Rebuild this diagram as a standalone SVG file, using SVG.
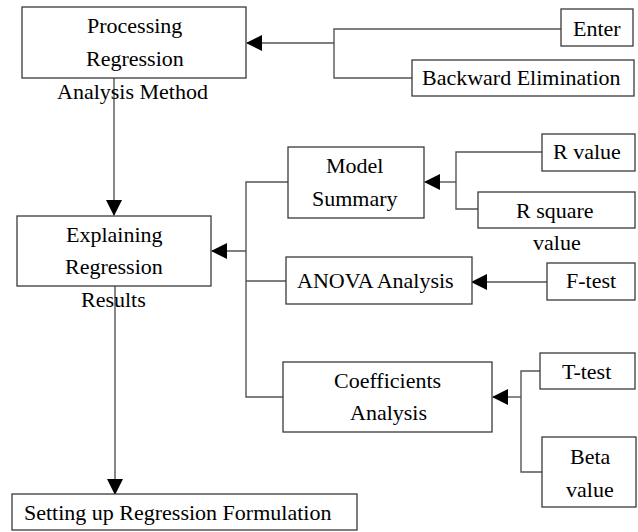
<svg xmlns="http://www.w3.org/2000/svg" width="638" height="532" viewBox="0 0 638 532">
  <defs>
    <marker id="arrow" viewBox="0 0 16 16" refX="15" refY="8" markerWidth="16" markerHeight="16" markerUnits="userSpaceOnUse" orient="auto">
      <path d="M0,0 L16,8 L0,16 Z" fill="#000000"/>
    </marker>
  </defs>
  <rect width="638" height="532" fill="#ffffff"/>

  <g id="connectors" fill="none" stroke="#555555" stroke-width="1.4">
    <!-- method options into processing -->
    <polyline points="561,29 334,29 334,78 412,78"/>
    <line x1="334" y1="43" x2="247" y2="43" marker-end="url(#arrow)"/>
    <!-- processing to explaining -->
    <line x1="114" y1="78" x2="114" y2="215" marker-end="url(#arrow)"/>
    <!-- explaining to formulation -->
    <line x1="115" y1="286" x2="115" y2="494" marker-end="url(#arrow)"/>
    <!-- analyses into explaining -->
    <polyline points="288,182 246,182 246,397 283,397"/>
    <line x1="246" y1="281" x2="286" y2="281"/>
    <line x1="246" y1="251" x2="212" y2="251" marker-end="url(#arrow)"/>
    <!-- R values into model summary -->
    <polyline points="542,152 456,152 456,209 478,209"/>
    <line x1="456" y1="182" x2="425" y2="182" marker-end="url(#arrow)"/>
    <!-- F-test into ANOVA -->
    <line x1="547" y1="282" x2="472" y2="282" marker-end="url(#arrow)"/>
    <!-- T-test and beta into coefficients -->
    <polyline points="540,371 521,371 521,472 542,472"/>
    <line x1="521" y1="397" x2="493" y2="397" marker-end="url(#arrow)"/>
  </g>

  <g id="nodes" font-family="Liberation Serif, DejaVu Serif, serif" font-size="22">
    <g id="processing">
      <rect x="22" y="7" width="224" height="71" fill="#ffffff" stroke="#3a3a3a" stroke-width="1.3"/>
      <text x="87" y="33">Processing</text>
      <text x="86" y="66">Regression</text>
      <text x="57" y="99">Analysis  Method</text>
    </g>

    <g id="enter">
      <rect x="561" y="9" width="72" height="37" fill="#ffffff" stroke="#3a3a3a" stroke-width="1.3"/>
      <text x="573" y="36">Enter</text>
    </g>

    <g id="backward">
      <rect x="412" y="60" width="222" height="36" fill="#ffffff" stroke="#3a3a3a" stroke-width="1.3"/>
      <text x="422" y="85">Backward Elimination</text>
    </g>

    <g id="explaining">
      <rect x="17" y="216" width="194" height="70" fill="#ffffff" stroke="#3a3a3a" stroke-width="1.3"/>
      <text x="66" y="242">Explaining</text>
      <text x="65" y="274">Regression</text>
      <text x="81" y="307">Results</text>
    </g>

    <g id="model-summary">
      <rect x="288" y="147" width="136" height="71" fill="#ffffff" stroke="#3a3a3a" stroke-width="1.3"/>
      <text x="326" y="173">Model</text>
      <text x="312" y="206">Summary</text>
    </g>

    <g id="r-value">
      <rect x="542" y="134" width="93" height="37" fill="#ffffff" stroke="#3a3a3a" stroke-width="1.3"/>
      <text x="553" y="159">R value</text>
    </g>

    <g id="r-square">
      <rect x="478" y="192" width="157" height="36" fill="#ffffff" stroke="#3a3a3a" stroke-width="1.3"/>
      <text x="516" y="218">R square</text>
      <text x="533" y="250">value</text>
    </g>

    <g id="anova">
      <rect x="286" y="257" width="186" height="47" fill="#ffffff" stroke="#3a3a3a" stroke-width="1.3"/>
      <text x="297" y="288">ANOVA Analysis</text>
    </g>

    <g id="f-test">
      <rect x="547" y="263" width="88" height="37" fill="#ffffff" stroke="#3a3a3a" stroke-width="1.3"/>
      <text x="566" y="288">F-test</text>
    </g>

    <g id="coefficients">
      <rect x="283" y="362" width="209" height="70" fill="#ffffff" stroke="#3a3a3a" stroke-width="1.3"/>
      <text x="334" y="388">Coefficients</text>
      <text x="350" y="420">Analysis</text>
    </g>

    <g id="t-test">
      <rect x="540" y="353" width="95" height="36" fill="#ffffff" stroke="#3a3a3a" stroke-width="1.3"/>
      <text x="562" y="379">T-test</text>
    </g>

    <g id="beta">
      <rect x="542" y="437" width="94" height="70" fill="#ffffff" stroke="#3a3a3a" stroke-width="1.3"/>
      <text x="570" y="464">Beta</text>
      <text x="566" y="497">value</text>
    </g>

    <g id="formulation">
      <rect x="12" y="494" width="345" height="36" fill="#ffffff" stroke="#3a3a3a" stroke-width="1.3"/>
      <text x="24" y="520">Setting up Regression Formulation</text>
    </g>
  </g>
</svg>
